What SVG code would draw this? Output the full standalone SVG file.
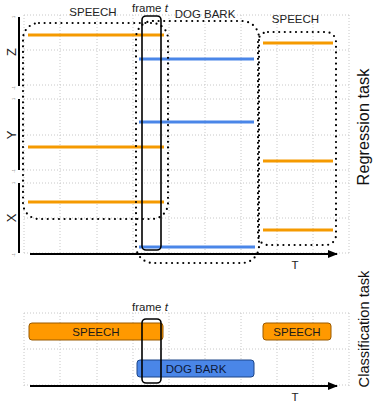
<svg xmlns="http://www.w3.org/2000/svg" width="381" height="413" viewBox="0 0 381 413">
<style>
.grid{stroke:#c8c8c8;stroke-width:1;stroke-dasharray:1 2;fill:none}
.ax{stroke:#000;stroke-width:2;fill:none}
.dots{stroke:#000;stroke-width:2.2;stroke-dasharray:0 5.6;stroke-linecap:round;fill:none}
.frame{stroke:#000;stroke-width:1.6;fill:none}
.sp{stroke:#f59a00;stroke-width:3}
.db{stroke:#4a86e8;stroke-width:3}
text{font-family:"Liberation Sans",Arial,sans-serif;fill:#222}
.lbl{font-size:11.5px;text-anchor:middle}
.tick{font-size:4px;text-anchor:middle;fill:#555}
.axl{font-size:13px;text-anchor:middle}
.task{text-anchor:middle;fill:#111}
.obox{fill:#ff9900;stroke:#9a5a00;stroke-width:1}
.bbox{fill:#4a86e8;stroke:#1c4587;stroke-width:1}
</style>
<defs>
<marker id="arr" markerWidth="10" markerHeight="8" refX="9" refY="4" orient="auto" markerUnits="userSpaceOnUse">
<path d="M0,0 L10,4 L0,8 Z" fill="#000"/>
</marker>
</defs>
<g id="upper-grid">
<path class="grid" d="M24,15V253M60,15V253M97,15V253M133,15V253M169,15V253M205,15V253M241,15V253M277,15V253M313,15V253M349,15V253"/>
<path class="grid" d="M24,15H349M24,50H349M24,85H349M24,99H349M24,135H349M24,170H349M24,183H349M24,218H349M24,253H349"/>
</g>
<g id="lower-grid">
<path class="grid" d="M24,313V386M60,313V386M97,313V386M133,313V386M169,313V386M205,313V386M241,313V386M277,313V386M313,313V386M349,313V386"/>
<path class="grid" d="M24,313H349M24,349H349M24,385H349"/>
</g>
<g id="y-axes">
<path class="ax" d="M19,17V86M19,99V170M19,183V253"/>
<text class="tick" transform="translate(15,17) rotate(-90)">1</text>
<text class="tick" transform="translate(15,88) rotate(-90)">-1</text>
<text class="tick" transform="translate(15,99) rotate(-90)">1</text>
<text class="tick" transform="translate(15,171) rotate(-90)">-1</text>
<text class="tick" transform="translate(15,183) rotate(-90)">1</text>
<text class="tick" transform="translate(15,255) rotate(-90)">-1</text>
<text class="axl" transform="translate(15.5,52) rotate(-90)">Z</text>
<text class="axl" transform="translate(15.5,135) rotate(-90)">Y</text>
<text class="axl" transform="translate(15.5,218) rotate(-90)">X</text>
</g>
<g id="connectors">
<line class="ax" x1="30" y1="254" x2="337" y2="254" marker-end="url(#arr)"/>
<line class="ax" x1="30" y1="386" x2="337" y2="386" marker-end="url(#arr)"/>
</g>
<g id="speech-lines">
<line class="sp" x1="28" y1="35" x2="164" y2="35"/>
<line class="sp" x1="28" y1="147" x2="164" y2="147"/>
<line class="sp" x1="28" y1="202" x2="164" y2="202"/>
<line class="sp" x1="263" y1="43" x2="333" y2="43"/>
<line class="sp" x1="263" y1="161" x2="333" y2="161"/>
<line class="sp" x1="263" y1="230" x2="333" y2="230"/>
</g>
<g id="dogbark-lines">
<line class="db" x1="139" y1="59" x2="254" y2="59"/>
<line class="db" x1="139" y1="122" x2="254" y2="122"/>
<line class="db" x1="139" y1="247" x2="255" y2="247"/>
</g>
<g id="speech-region-left">
<rect class="dots" x="23" y="23" width="145" height="196" rx="16"/>
<text class="lbl" x="93" y="16">SPEECH</text>
</g>
<g id="dogbark-region">
<rect class="dots" x="136" y="21" width="123" height="242" rx="17"/>
<text class="lbl" x="205" y="17.5">DOG BARK</text>
</g>
<g id="speech-region-right">
<rect class="dots" x="258" y="32" width="78" height="213" rx="10"/>
<text class="lbl" x="295.5" y="23">SPEECH</text>
</g>
<g id="frame-upper">
<rect class="frame" x="142" y="16" width="19" height="234" rx="4"/>
<text class="lbl" x="150" y="12">frame <tspan font-style="italic">t</tspan></text>
</g>
<g id="speech-box-left">
<rect class="obox" x="29" y="323" width="134" height="17" rx="3"/>
<text class="lbl" x="96" y="335.5" style="fill:#1a1a1a">SPEECH</text>
</g>
<g id="speech-box-right">
<rect class="obox" x="263" y="323" width="68" height="17" rx="3"/>
<text class="lbl" x="297" y="335.5" style="fill:#1a1a1a">SPEECH</text>
</g>
<g id="dogbark-box">
<rect class="bbox" x="137" y="360" width="117" height="17" rx="3"/>
<text class="lbl" x="196" y="372.5" style="fill:#0d1a3a">DOG BARK</text>
</g>
<g id="frame-lower">
<rect class="frame" x="142" y="319" width="19" height="64" rx="4"/>
<text class="lbl" x="150" y="311">frame <tspan font-style="italic">t</tspan></text>
</g>
<g id="axis-labels">
<text class="lbl" x="295" y="269">T</text>
<text class="lbl" x="295" y="401">T</text>
<text class="task" style="font-size:16.3px" transform="translate(369,127) rotate(-90)">Regression task</text>
<text class="task" style="font-size:14.6px" transform="translate(369,329) rotate(-90)">Classification task</text>
</g>
</svg>
